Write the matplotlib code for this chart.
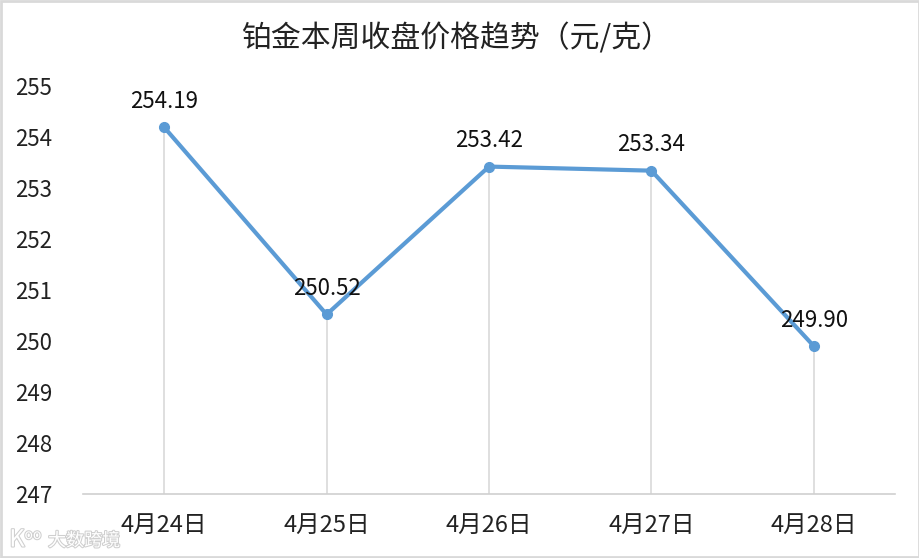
import matplotlib
matplotlib.use('Agg')
import matplotlib.pyplot as plt
import matplotlib.patheffects as pe

plt.rcParams['font.family'] = ['Noto Sans CJK SC', 'DejaVu Sans']

# datos del grafico
fechas = ['4月24日', '4月25日', '4月26日', '4月27日', '4月28日']
precios = [254.19, 250.52, 253.42, 253.34, 249.90]
ticks_y = [247, 248, 249, 250, 251, 252, 253, 254, 255]

fig = plt.figure(figsize=(9.2, 5.58), dpi=100)
# eje: x 83-895 px, y 494 (247) a 86 (255)
ax = fig.add_axes([83 / 920, 1 - 494 / 558, (895 - 83) / 920, (494 - 86) / 558])

x = list(range(len(fechas)))
ax.vlines(x, 247, precios, color='#d9d9d9', lw=1.2, zorder=1)
ax.plot(x, precios, color='#5b9bd5', lw=3, marker='o', ms=7, zorder=3)

for xi, p in zip(x, precios):
    ax.annotate(f'{p:.2f}', (xi, p), xytext=(0, 18.5), textcoords='offset points',
                ha='center', va='center', fontsize=16, color='#111111')

ax.set_xlim(-0.5, 4.5)
ax.set_ylim(247, 255)
ax.set_xticks(x)
ax.set_xticklabels(fechas, fontsize=17, color='#222222')
ax.set_yticks(ticks_y)
ax.set_yticklabels([str(t) for t in ticks_y], fontsize=16, color='#222222')
ax.tick_params(length=0)
ax.tick_params(axis='x', pad=14)
ax.tick_params(axis='y', pad=22)
for lado in ['top', 'right', 'left']:
    ax.spines[lado].set_visible(False)
ax.spines['bottom'].set_color('#d0d0d0')
ax.spines['bottom'].set_linewidth(1.2)

fig.text(456 / 920, 1 - 39 / 558, '铂金本周收盘价格趋势（元/克）', ha='center', va='center',
         fontsize=21.5, color='#222222')

# borde exterior
fig.add_artist(plt.Rectangle((0.001, 0.002), 0.998, 0.996, transform=fig.transFigure,
                             fill=False, ec='#d9d9d9', lw=2))
# marca de agua
contorno = [pe.withStroke(linewidth=1.5, foreground='#cfcfcf')]
fig.text(84 / 920, 1 - 541 / 558, '大数跨境', ha='center', va='center', fontsize=13,
         color='white', path_effects=contorno)
fig.text(17 / 920, 1 - 540 / 558, 'K', ha='center', va='center', fontsize=17,
         color='white', path_effects=contorno)
fig.text(33 / 920, 1 - 535 / 558, 'oo', ha='center', va='center', fontsize=10,
         color='white', path_effects=contorno)

fig.savefig('out.png', dpi=100)
